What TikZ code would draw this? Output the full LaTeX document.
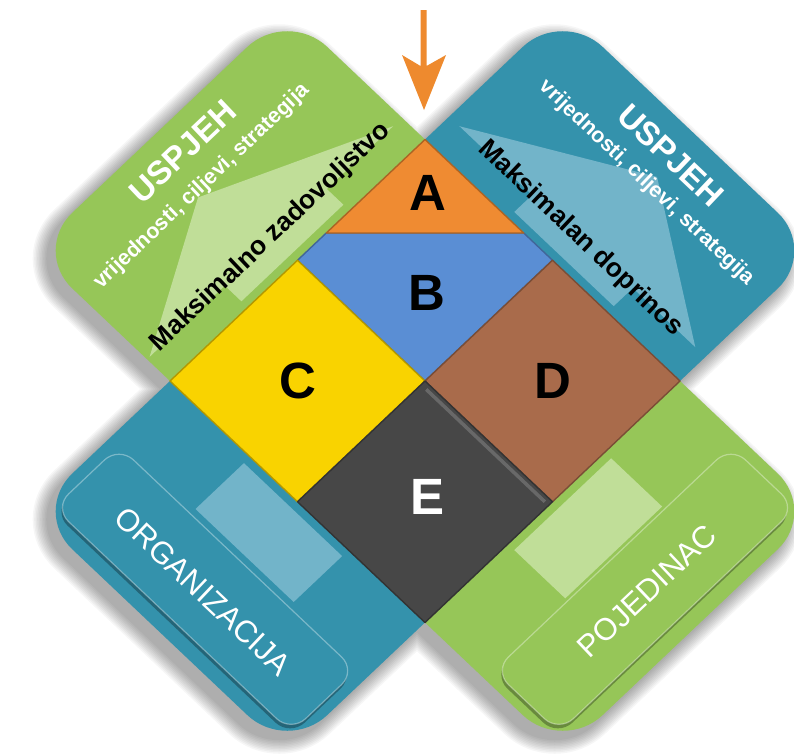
\documentclass[tikz,border=0pt]{standalone}
\usepackage{fontspec}
\setmainfont{Liberation Sans}
\definecolor{grn}{HTML}{96C658}
\definecolor{grnL}{HTML}{C0DE98}
\definecolor{tl}{HTML}{3492AC}
\definecolor{tlL}{HTML}{72B4C9}
\definecolor{cA}{HTML}{EF8B32}
\definecolor{cB}{HTML}{5A8ED4}
\definecolor{cC}{HTML}{F9D300}
\definecolor{cD}{HTML}{A96B4B}
\definecolor{cE}{HTML}{474747}
\definecolor{orng}{HTML}{EE8A2E}
\tikzset{
  band/.style={rounded corners=55pt},
  cellbox/.style={draw=#1!72!black, line width=1.4pt, line join=round, fill=#1},
  bigletter/.style={inner sep=0pt, font=\bfseries\fontsize{51}{51}\selectfont},
  headtxt/.style={inner sep=0pt, text=white, font=\bfseries\fontsize{33}{33}\selectfont},
  subtxt/.style={inner sep=0pt, text=white, font=\bfseries\fontsize{21.5}{22}\selectfont},
  maxtxt/.style={inner sep=0pt, text=black, font=\bfseries\fontsize{26.5}{27}\selectfont},
  btntxt/.style={inner sep=0pt, text=white, font=\fontsize{31}{31}\selectfont},
  btnbox/.style={rounded corners=20pt, fill=#1},
}
\begin{document}
\begin{tikzpicture}[x=1pt,y=-1pt]
\useasboundingbox (0,0) rectangle (794,753);
\fill[white] (0,0) rectangle (794,753);

\begin{scope}[shift={(425,381)}, x={(127.5pt,-120.75pt)}, y={(127.5pt,120.75pt)}]
  % soft drop shadow
  \foreach \w in {3,6,...,30} {
    \begin{scope}[transparency group, opacity=0.034]
      \filldraw[black, line width=\w pt, line join=round, band, shift={(-8pt,-8pt)}]
        (-2.08,-1) -- (2.08,-1) -- (2.08,1) -- (-2.08,1) -- cycle
        (-1,-2.08) -- (1,-2.08) -- (1,2.08) -- (-1,2.08) -- cycle;
    \end{scope}
  }
  % bands
  \fill[grn, band] (-2.08,-1) -- (2.08,-1) -- (2.08,1) -- (-2.08,1) -- cycle;
  \fill[tl, band] (-1,-2.08) -- (1,-2.08) -- (1,2.08) -- (-1,2.08) -- cycle;

  % light arrows (top blocks)
  \fill[grnL] (-1.05,-0.39) -- (-1.18,-0.39) -- (-1.18,-0.98) -- (-1.65,-0.13)
     -- (-1.18,0.93) -- (-1.18,0.41) -- (-1.05,0.41) -- cycle;
  \fill[tlL] (-0.35,1.05) -- (-0.35,1.19) -- (-0.92,1.19) -- (0.065,1.755)
     -- (0.92,1.2) -- (0.43,1.2) -- (0.43,1.05) -- cycle;
  % light shafts (bottom blocks)
  \fill[tlL] (-0.37,-1.05) -- (0.40,-1.05) -- (0.40,-1.43) -- (-0.37,-1.43) -- cycle;
  \fill[grnL] (1.05,-0.35) -- (1.45,-0.35) -- (1.45,0.41) -- (1.05,0.41) -- cycle;

  % buttons
  \fill[black, opacity=0.3, btnbox=black, shift={(-1pt,-4pt)}]
     (-0.93,-1.98) -- (0.93,-1.98) -- (0.93,-1.47) -- (-0.93,-1.47) -- cycle;
  \fill[btnbox=tl] (-0.93,-1.98) -- (0.93,-1.98) -- (0.93,-1.47) -- (-0.93,-1.47) -- cycle;
  \draw[white, opacity=0.35, line width=1.2pt, rounded corners=20pt]
     (-0.93,-1.98) -- (0.93,-1.98) -- (0.93,-1.47) -- (-0.93,-1.47) -- cycle;
  \fill[black, opacity=0.3, btnbox=black, shift={(-1pt,-4pt)}]
     (1.47,-0.93) -- (1.98,-0.93) -- (1.98,0.93) -- (1.47,0.93) -- cycle;
  \fill[btnbox=grn] (1.47,-0.93) -- (1.98,-0.93) -- (1.98,0.93) -- (1.47,0.93) -- cycle;
  \draw[white, opacity=0.35, line width=1.2pt, rounded corners=20pt]
     (1.47,-0.93) -- (1.98,-0.93) -- (1.98,0.93) -- (1.47,0.93) -- cycle;

  % central cells
  \filldraw[cellbox=cB] (-1,0.2257) -- (-1,0) -- (0,0) -- (0,1) -- (-0.2257,1) -- cycle;
  \filldraw[cellbox=cA] (-1,1) -- (-1,0.2257) -- (-0.2257,1) -- cycle;
  \filldraw[cellbox=cC] (-1,-1) -- (0,-1) -- (0,0) -- (-1,0) -- cycle;
  \filldraw[cellbox=cD] (0,0) -- (1,0) -- (1,1) -- (0,1) -- cycle;
  \filldraw[cellbox=cE] (0,-1) -- (1,-1) -- (1,0) -- (0,0) -- cycle;
  \draw[white, opacity=0.18, line width=3.5pt] (0.04,-0.03) -- (0.97,-0.03);

  % cell letters
  \node[bigletter] (la) at (-0.77,0.79) {A};
  \node[bigletter] (lb) at (-0.356,0.372) {B};
  \node[bigletter] (lc) at (-0.5,-0.5) {C};
  \node[bigletter] (ld) at (0.5,0.5) {D};
  \node[bigletter, text=white] (le) at (0.49,-0.47) {E};

  % texts green top-left
  \node[headtxt, rotate=43.44] (gh) at (-1.9,0) {USPJEH};
  \node[subtxt, rotate=43.44] (gs) at (-1.68,-0.07) {vrijednosti, ciljevi, strategija};
  \node[maxtxt, rotate=43.44] (gm) at (-1.2,-0.01) {Maksimalno zadovoljstvo};
  % texts teal top-right
  \node[headtxt, rotate=-43.44] (th) at (0.03,1.9) {USPJEH};
  \node[subtxt, rotate=-43.44] (ts) at (0.05,1.69) {vrijednosti, ciljevi, strategija};
  \node[maxtxt, rotate=-43.44] (tm) at (0.02,1.2) {Maksimalan doprinos};
  % button texts
  \node[btntxt, rotate=-43.44] (org) at (0,-1.74) {ORGANIZACIJA};
  \node[btntxt, rotate=43.44] (poj) at (1.74,0) {POJEDINAC};
\end{scope}

% orange arrow on top
\fill[orng] (420.5,10) -- (426.5,10) -- (426.5,66) -- (446,55) -- (424,110)
   -- (402,55) -- (420.5,66) -- cycle;
\end{tikzpicture}
\end{document}
